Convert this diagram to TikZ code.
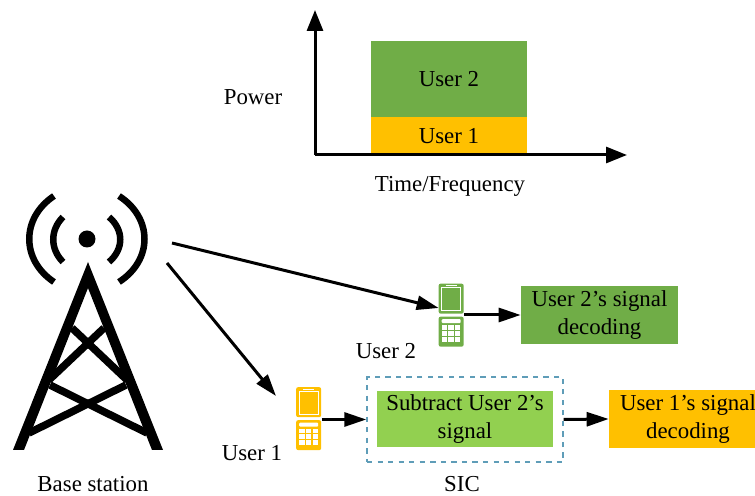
\documentclass[tikz,border=0pt]{standalone}
\usepackage{fontspec}
\setmainfont{Liberation Serif}
\usetikzlibrary{arrows.meta}
\definecolor{usertwo}{HTML}{70AD47}
\definecolor{userone}{HTML}{FFC000}
\definecolor{subtract}{HTML}{92D050}
\definecolor{sicline}{HTML}{5F9DB8}
\tikzset{
  label/.style={font=\fontsize{13}{15.5}\selectfont, inner sep=0pt, align=center},
  block/.style={label, minimum height=1.16cm},
  link/.style={line width=0.06cm, -{Triangle[length=0.44cm, width=0.28cm]}},
  axis/.style={line width=0.06cm, -{Triangle[length=0.42cm, width=0.32cm]}},
  mast/.style={line width=0.15cm},
  wave/.style={line width=0.13cm},
  phonebox/.style={minimum width=0.5cm, minimum height=1.26cm, inner sep=0pt},
  pics/phone/.style={code={
    \fill[#1, rounded corners=0.04cm] (0,0) rectangle (25,30);
    \fill[#1, rounded corners=0.04cm] (0,33) rectangle (25,63);
    \draw[white, line width=0.02cm] (3,4) rectangle (22,27);
    \draw[white, line width=0.02cm] (7,2.2) -- (18,2.2);
    \fill[white, rounded corners=0.02cm] (3,35.5) rectangle (22,39.5);
    \foreach \i in {0,1,2}{
      \foreach \j in {0,1,2}{
        \fill[white] (3.2+\i*6.6,41.5+\j*5.8) rectangle +(5.4,4.8);
      }
    }
  }}
}
\begin{document}
\begin{tikzpicture}[x=0.02cm, y=-0.02cm]
\clip (0,0) rectangle (755,496);

% Power chart
\node[fill=usertwo, minimum width=3.12cm, minimum height=1.52cm, inner sep=0pt, label] (chart2) at (449,79) {User 2};
\node[fill=userone, minimum width=3.12cm, minimum height=0.76cm, inner sep=0pt, label] (chart1) at (449,136) {User 1};
\coordinate (origin) at (315,155);
\coordinate (ytip) at (315,10);
\coordinate (xtip) at (627,155);
\draw[axis] (origin) -- (ytip);
\draw[axis] (origin) -- (xtip);
\node[label] (power) at (253,97) {Power};
\node[label] (timefreq) at (450,186) {Time/Frequency};

% Base station
\fill (88,262) -- (163,450) -- (152,450) -- (88,288) -- (24,450) -- (13,450) -- cycle;
\draw[mast] (72,328) -- (127,380);
\draw[mast] (104,328) -- (49,380);
\draw[mast] (50,385) -- (147,433);
\draw[mast] (126,385) -- (29,433);
\fill (87,239) circle (8.5);
\draw[wave] (54,196) .. controls (21,218) and (21,260) .. (54,282);
\draw[wave] (63,217) .. controls (50,230) and (50,249) .. (63,262);
\draw[wave] (119,196) .. controls (153,218) and (153,260) .. (119,282);
\draw[wave] (109,217) .. controls (124,230) and (124,249) .. (109,262);
\node[label] (base) at (93,484) {Base station};
\coordinate (basetwo) at (172,243);
\coordinate (baseone) at (167,263);

% Users
\node[phonebox] (phone2) at (451.5,315.5) {};
\pic at (phone2.north west) {phone=usertwo};
\node[phonebox] (phone1) at (309,419) {};
\pic at (phone1.north west) {phone=userone};
\node[label] (name2) at (386,351) {User 2};
\node[label] (name1) at (252,453) {User 1};

% Decoding blocks
\node[block, fill=usertwo, minimum width=3.14cm] (dec2) at (599.5,315) {User 2's signal\\decoding};
\node[block, fill=subtract, minimum width=3.52cm, minimum height=1.12cm] (sub) at (465,419) {Subtract User 2's\\signal};
\node[draw=sicline, dashed, line width=0.03cm, minimum width=3.92cm, minimum height=1.7cm, inner sep=0pt] (sic) at (465,419.5) {};
\node[block, fill=userone, minimum width=3.16cm] (dec1) at (688,419) {User 1's signal\\decoding};
\node[label] (sicname) at (462,484) {SIC};

% Arrows
\draw[link] (basetwo) -- (phone2.west |- 0,308);
\draw[link] (baseone) -- (276,396);
\draw[link] (phone2.east |- dec2.west) -- (dec2.west);
\draw[link] (phone1.east |- sic.west) -- (sic.west);
\draw[link] (sic.east) -- (dec1.west);
\end{tikzpicture}
\end{document}
